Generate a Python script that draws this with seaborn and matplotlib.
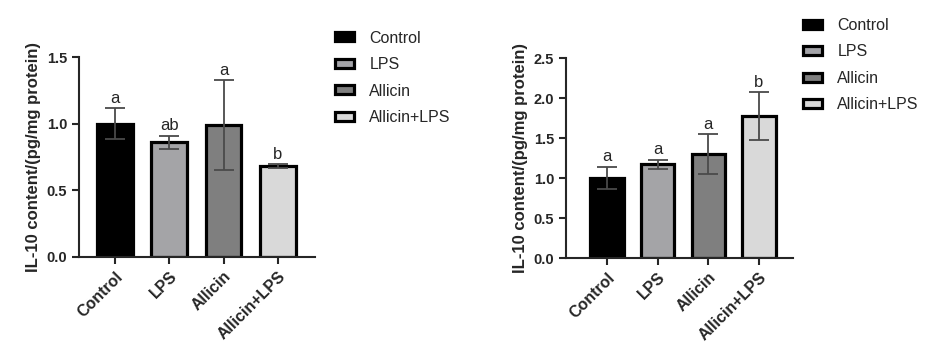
import numpy as np
import pandas as pd
import seaborn as sns
import matplotlib.pyplot as plt
from matplotlib.patches import Patch

sns.set_style('ticks')
plt.rcParams['font.family'] = ['Liberation Sans', 'DejaVu Sans']

# Data
groups = ['Control', 'LPS', 'Allicin', 'Allicin+LPS']
colors = ['#000000', '#a3a3a8', '#7f7f7f', '#d9d9d9']

left_mean = [1.00, 0.86, 0.99, 0.68]
left_err = [0.115, 0.05, 0.335, 0.015]
left_letters = ['a', 'ab', 'a', 'b']

right_mean = [1.00, 1.17, 1.30, 1.77]
right_err = [0.14, 0.06, 0.245, 0.30]
right_letters = ['a', 'a', 'a', 'b']

fig = plt.figure(figsize=(9.25, 3.52), dpi=100)
ax1 = fig.add_axes([0.0854, 0.270, 0.255, 0.568])
ax2 = fig.add_axes([0.612, 0.267, 0.245, 0.568])


def draw_panel(ax, mean, err, letters, ymax, xlim):
    df = pd.DataFrame({'Group': groups, 'Value': mean})
    sns.barplot(data=df, x='Group', y='Value', hue='Group', palette=colors,
                width=0.66, edgecolor='black', linewidth=2.3, legend=False, ax=ax)
    x = np.arange(len(groups))
    ax.errorbar(x, mean, yerr=err, fmt='none', ecolor='#4a4a4a',
                elinewidth=1.3, capsize=7, capthick=1.3, zorder=5)
    for xi, m, e, lab in zip(x, mean, err, letters):
        ax.annotate(lab, (xi, m + e), xytext=(0, 2), textcoords='offset points',
                    ha='center', va='bottom', fontsize=12)
    ticks = np.arange(0, ymax + 0.01, 0.5)
    ax.set_ylim(0, ymax)
    ax.set_yticks(ticks)
    ax.set_yticklabels([f'{v:.1f}' for v in ticks], fontweight='bold', fontsize=10.5)
    ax.set_xlim(*xlim)
    ax.set_xticks(x)
    ax.set_xticklabels(groups, rotation=45, ha='right', rotation_mode='anchor',
                       fontweight='bold', fontsize=11.5)
    ax.set_xlabel('')
    ax.set_ylabel('IL-10 content/(pg/mg protein)', fontweight='bold', fontsize=12)
    ax.tick_params(axis='both', width=1.5, length=5, direction='out')
    sns.despine(ax=ax)
    for s in ['left', 'bottom']:
        ax.spines[s].set_linewidth(1.5)

    handles = [Patch(facecolor=c, edgecolor='black', linewidth=2.3, label=g)
               for g, c in zip(groups, colors)]
    return handles


h = draw_panel(ax1, left_mean, left_err, left_letters, 1.5, (-0.66, 3.68))
draw_panel(ax2, right_mean, right_err, right_letters, 2.5, (-0.81, 3.67))

for anchor in [(0.3466, 0.954), (0.8527, 0.99)]:
    fig.legend(handles=h, loc='upper left', bbox_to_anchor=anchor,
               frameon=False, fontsize=11.5, handlelength=1.2, handleheight=0.5,
               labelspacing=0.72, handletextpad=0.95)

fig.savefig('out.png', dpi=100)
